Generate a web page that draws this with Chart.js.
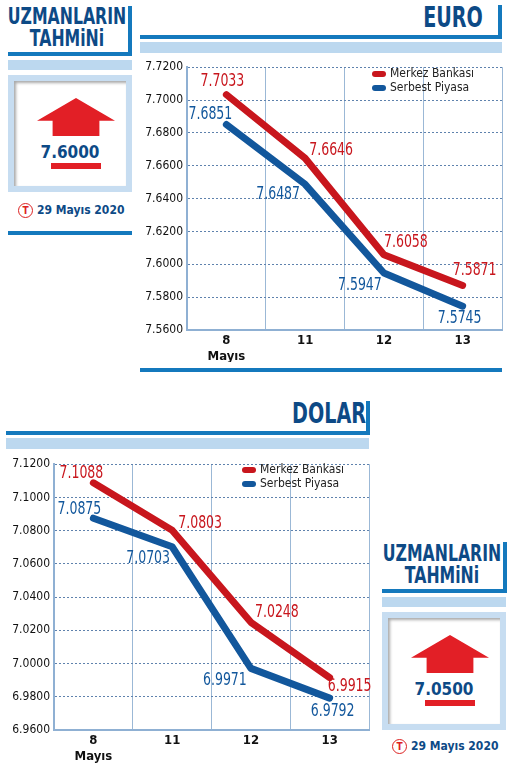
<!DOCTYPE html>
<html><head><meta charset="utf-8">
<script src="https://cdn.jsdelivr.net/npm/chart.js@4"></script>
<style>
body{margin:0;width:510px;height:768px;position:relative;background:#fff;font-family:"DejaVu Sans",sans-serif;font-stretch:condensed;overflow:hidden}
.abs{position:absolute}
.title{color:#0d4a86;font-weight:bold;font-family:"DejaVu Sans",sans-serif;font-stretch:condensed;text-align:center;line-height:22px;white-space:nowrap;width:200px;transform:scaleX(0.76);transform-origin:center}
.bl{background:#1479bd}
.lb{background:#bcd8ef}
.box{background:#c7ddf1;}
.inner{position:absolute;left:6px;top:6px;right:6px;bottom:6px;background:#fff;box-shadow:inset 2px 2px 3px #aaa}
.arrow{position:absolute;background:#e21f26;clip-path:polygon(50% 0,100% 60%,80% 60%,80% 100%,20% 100%,20% 60%,0 60%)}
.val{position:absolute;color:#0d4a86;font-weight:bold;font-size:17px;width:100%;text-align:center}
.date{color:#0d4a86;font-weight:bold;font-size:12px;white-space:nowrap}
.t{display:inline-block;width:13px;height:13px;border:1.5px solid #d22;border-radius:50%;color:#d22;font-size:10px;text-align:center;line-height:13px;vertical-align:middle;margin-right:4px}
.leg{font-size:12px;color:#222;line-height:14px;white-space:nowrap}
.leg span{display:inline-block;width:14px;height:6px;border-radius:3px;margin-right:4px;vertical-align:middle}
canvas{position:absolute}
</style></head><body>
<!-- Euro header -->
<div class="abs title" style="left:353px;top:4px;font-size:28px;line-height:28px">EURO</div>
<div class="abs bl" style="left:140px;top:35px;width:362px;height:4px"></div>
<div class="abs bl" style="left:498px;top:5px;width:4px;height:34px"></div>
<div class="abs lb" style="left:140px;top:42px;width:362px;height:11px"></div>
<div class="abs bl" style="left:140px;top:368px;width:362px;height:4px"></div>
<!-- Left panel -->
<div class="abs title" style="left:-33px;top:5px;font-size:23px">UZMANLARIN<br>TAHMiNi</div>
<div class="abs bl" style="left:8px;top:52px;width:124px;height:4px"></div>
<div class="abs bl" style="left:128px;top:6px;width:4px;height:50px"></div>
<div class="abs lb" style="left:8px;top:60px;width:124px;height:10px"></div>
<div class="abs box" style="left:8px;top:75px;width:124px;height:117px"><div class="inner">
 <div class="arrow" style="left:23px;top:17px;width:78px;height:38px"></div>
 <div class="val" style="top:61px">7.6000</div>
 <div class="abs" style="left:37px;top:82px;width:50px;height:6px;background:#e21f26"></div>
</div></div>
<div class="abs date" style="left:18px;top:203px"><span class="t">T</span>29 Mayıs 2020</div>
<div class="abs bl" style="left:8px;top:231px;width:124px;height:4px"></div>
<!-- Dolar header -->
<div class="abs title" style="left:229px;top:400px;font-size:28px;line-height:28px">DOLAR</div>
<div class="abs bl" style="left:6px;top:431px;width:363px;height:4px"></div>
<div class="abs bl" style="left:366px;top:401px;width:4px;height:34px"></div>
<div class="abs lb" style="left:6px;top:438px;width:363px;height:11px"></div>
<!-- Right panel -->
<div class="abs title" style="left:342px;top:542px;font-size:23px">UZMANLARIN<br>TAHMiNi</div>
<div class="abs bl" style="left:382px;top:589px;width:124px;height:4px"></div>
<div class="abs bl" style="left:503px;top:542px;width:4px;height:51px"></div>
<div class="abs lb" style="left:382px;top:597px;width:124px;height:10px"></div>
<div class="abs box" style="left:382px;top:612px;width:124px;height:118px"><div class="inner">
 <div class="arrow" style="left:23px;top:17px;width:78px;height:38px"></div>
 <div class="val" style="top:61px">7.0500</div>
 <div class="abs" style="left:37px;top:82px;width:50px;height:6px;background:#e21f26"></div>
</div></div>
<div class="abs date" style="left:392px;top:739px"><span class="t">T</span>29 Mayıs 2020</div>

<canvas id="c1" style="left:140px;top:56px;width:364px;height:306px" width="364" height="306"></canvas>
<canvas id="c2" style="left:6px;top:453px;width:365px;height:311px" width="365" height="311"></canvas>
<div class="abs leg" style="left:372px;top:66px"><div><span style="background:#c8161d"></span>Merkez Bankası</div><div><span style="background:#12579c"></span>Serbest Piyasa</div></div>
<div class="abs leg" style="left:242px;top:462px"><div><span style="background:#c8161d"></span>Merkez Bankası</div><div><span style="background:#12579c"></span>Serbest Piyasa</div></div>
<script>
const categories = [['8','Mayıs'],'11','12','13'];
const euroMerkez = [7.7033, 7.6646, 7.6058, 7.5871];
const euroSerbest = [7.6851, 7.6487, 7.5947, 7.5745];
const dolarMerkez = [7.1088, 7.0803, 7.0248, 6.9915];
const dolarSerbest = [7.0875, 7.0703, 6.9971, 6.9792];
const euroTicks = [7.56, 7.72];
const dolarTicks = [6.96, 7.12];
const RED='#c8161d', BLUE='#12579c';

const labelPlugin = {id:'vals', afterDatasetsDraw(ch, a, opts){
  const ctx=ch.ctx; ctx.save();
  ctx.font='17px "DejaVu Sans Condensed","DejaVu Sans",sans-serif';
  ctx.textAlign='center'; ctx.textBaseline='middle';
  ch.data.datasets.forEach((ds,i)=>{
    const meta=ch.getDatasetMeta(i);
    meta.data.forEach((p,j)=>{
      const o=opts.off[i][j];
      ctx.fillStyle=ds.borderColor;
      ctx.save(); ctx.translate(p.x+o[0], p.y+o[1]); ctx.scale(0.82,1);
      ctx.fillText(ds.data[j].toFixed(4), 0, 0); ctx.restore();
    });
  });
  ctx.restore();
}};

function make(id, m, s, ticks, off, yw, xh){
  new Chart(document.getElementById(id),{
    type:'line',
    data:{labels:categories,datasets:[
      {label:'Merkez Bankası',data:m,borderColor:RED,borderWidth:7,pointRadius:0,tension:0,borderCapStyle:'round',borderJoinStyle:'round'},
      {label:'Serbest Piyasa',data:s,borderColor:BLUE,borderWidth:7,pointRadius:0,tension:0,borderCapStyle:'round',borderJoinStyle:'round'}]},
    options:{responsive:false,animation:false,events:[],
      layout:{padding:{top:6,right:2,left:0,bottom:0}},
      plugins:{legend:{display:false},tooltip:{enabled:false},vals:{off}},
      scales:{
        x:{offset:true,grid:{offset:true,color:'#9bb8d6',lineWidth:1,drawTicks:false},border:{color:'#8fb0d3',width:2},
           ticks:{color:'#111',font:{size:13,weight:'bold'},padding:3},
           afterFit(sc){sc.height=xh;}},
        y:{min:ticks[0],max:ticks[1],grid:{color:'#5f82ad',lineWidth:1,drawTicks:false},border:{color:'#8fb0d3',width:2,dash:[2,2]},
           ticks:{stepSize:0.02,color:'#111',padding:4,font:{size:12},callback:v=>v.toFixed(4)},
           afterFit(sc){sc.width=yw;}}
      }},
    plugins:[labelPlugin]
  });
}
Chart.defaults.font.family='"DejaVu Sans Condensed","DejaVu Sans",sans-serif';
make('c1',euroMerkez,euroSerbest,euroTicks,
 [[[-4,-13],[26,-8],[22,-12],[12,-15]],[[-16,-10],[-27,10],[-24,13],[-3,12]]],47,32);
make('c2',dolarMerkez,dolarSerbest,dolarTicks,
 [[[-12,-9],[28,-7],[26,-10],[20,9]],[[-14,-9],[-24,12],[-26,12],[3,13]]],48,34);
</script>
</body></html>
